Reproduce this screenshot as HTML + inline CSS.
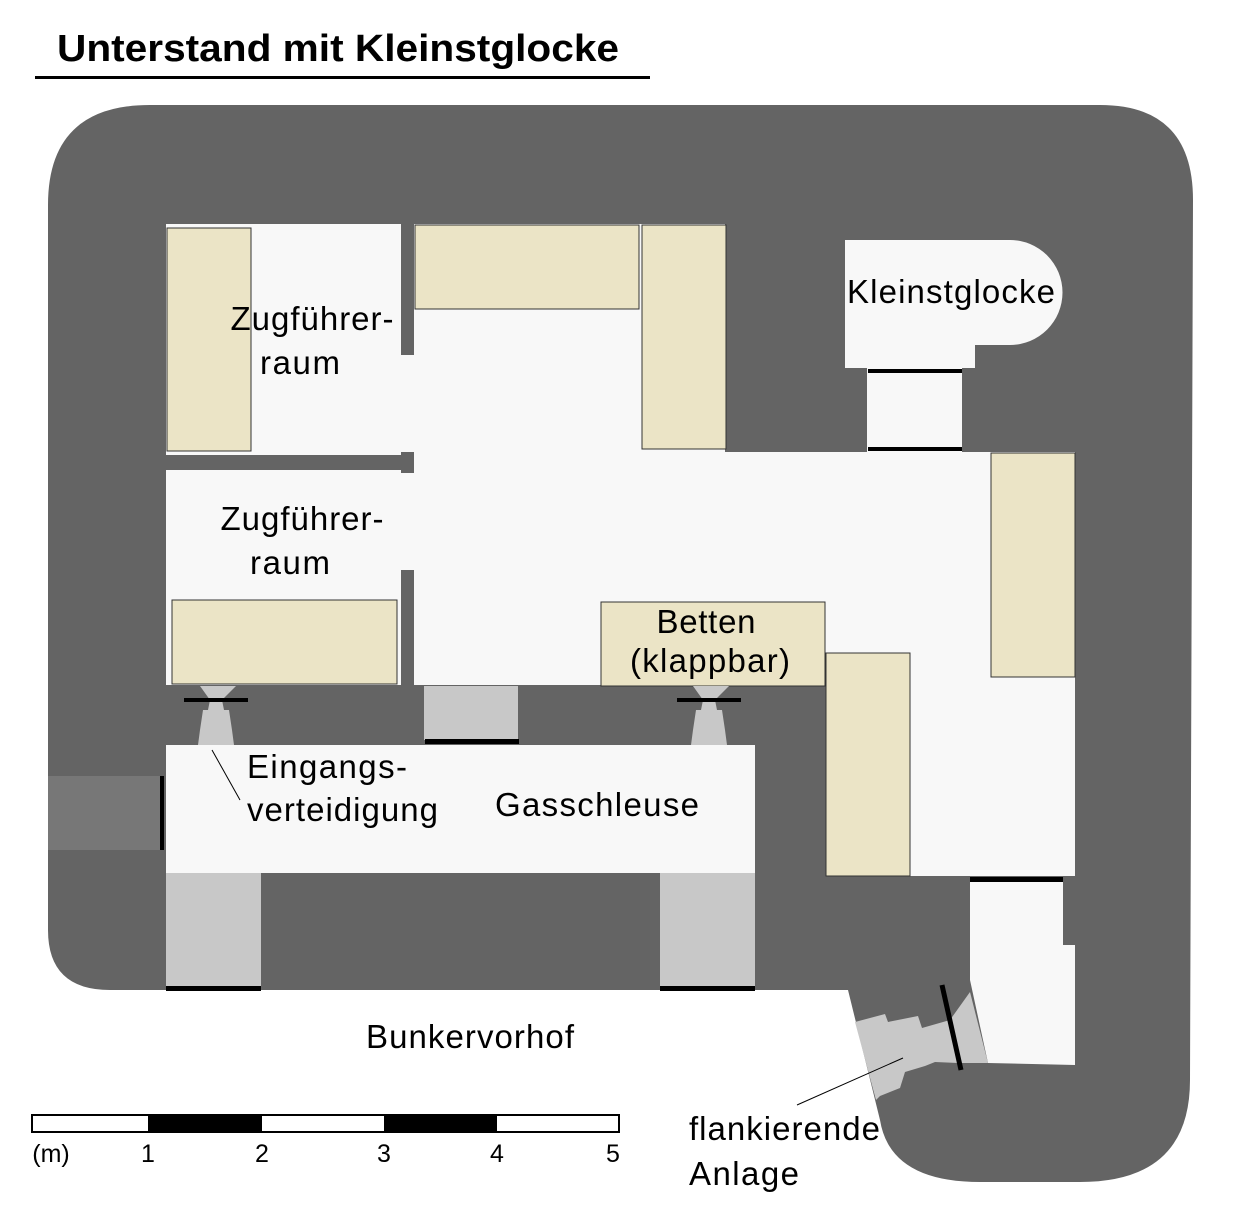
<!DOCTYPE html>
<html><head><meta charset="utf-8"><style>body{margin:0;background:#fff}svg{display:block}text{font-family:"Liberation Sans",sans-serif}</style></head><body>
<svg width="1250" height="1219" viewBox="0 0 1250 1219">
<text x="57" y="61" font-size="38" font-weight="bold" textLength="562" lengthAdjust="spacingAndGlyphs">Unterstand mit Kleinstglocke</text>
<rect x="35" y="76" width="615" height="3" fill="#000"/>
<path d="M48 205 Q48 105 150 105 L1100 105 Q1193 105 1193 200 L1190 1080 Q1190 1182 1080 1182 L980 1182 Q890 1182 880 1120 L848 990 L110 990 Q48 990 48 930 Z" fill="#646464"/>
<g fill="#f8f8f8">
<rect x="166" y="224" width="235" height="231"/>
<rect x="166" y="470" width="235" height="215"/>
<rect x="401" y="355" width="14" height="97"/>
<rect x="401" y="473" width="14" height="97"/>
<polygon points="414,224 725,224 725,452 1075,452 1075,876 826,876 826,685 414,685"/>
<path d="M845 240 L1010 240 A52 52 0 0 1 1010 345 L975 345 L975 368 L845 368 Z"/>
<rect x="867" y="368" width="95" height="84"/>
<rect x="166" y="745" width="589" height="128"/>
<polygon points="970,880 1063,880 1063,945 1075,945 1075,1065 988,1063 970,980"/>
</g>
<rect x="166" y="455" width="248" height="15" fill="#646464"/>
<rect x="868" y="369" width="94" height="4" fill="#000"/>
<rect x="868" y="447" width="94" height="4" fill="#000"/>
<g fill="#ebe4c6" stroke="#333" stroke-width="1">
<rect x="167" y="228" width="84" height="223"/>
<rect x="415" y="225" width="224" height="84"/>
<rect x="642" y="225" width="84" height="224"/>
<rect x="172" y="600" width="225" height="84"/>
<rect x="601" y="602" width="224" height="84"/>
<rect x="826" y="653" width="84" height="223"/>
<rect x="991" y="453" width="84" height="224"/>
</g>
<rect x="48" y="776" width="114" height="74" fill="#777"/>
<rect x="160" y="776" width="4" height="74" fill="#000"/>
<g fill="#c8c8c8">
<rect x="424" y="686" width="94" height="54"/>
<rect x="166" y="873" width="95" height="115"/>
<rect x="660" y="873" width="95" height="115"/>
<polygon points="200,686 236,686 222,700 224,710 229,710 232,730 234,745 198,745 200,730 203,710 208,710 210,700"/>
<polygon points="693,686 729,686 715,700 717,710 722,710 725,730 727,745 691,745 693,730 696,710 701,710 703,700"/>
<polygon points="855,1022 885,1014 888,1022 918,1016 922,1028 950,1020 970,992 988,1063 958,1063 935,1062 925,1066 905,1072 900,1088 880,1096 876,1100"/>
</g>
<rect x="184" y="698" width="64" height="4" fill="#000"/>
<rect x="677" y="698" width="64" height="4" fill="#000"/>
<rect x="425" y="739" width="94" height="5" fill="#000"/>
<rect x="166" y="986" width="95" height="5" fill="#000"/>
<rect x="660" y="986" width="95" height="5" fill="#000"/>
<rect x="970" y="877" width="93" height="5" fill="#000"/>
<line x1="942" y1="985" x2="961" y2="1070" stroke="#000" stroke-width="5"/>
<line x1="212" y1="750" x2="240" y2="800" stroke="#000" stroke-width="1"/>
<line x1="903" y1="1058" x2="797" y2="1105" stroke="#000" stroke-width="1"/>
<g font-size="33" text-anchor="middle" lengthAdjust="spacingAndGlyphs">
<text x="312" y="330" textLength="163">Zugführer-</text>
<text x="300" y="374" textLength="80">raum</text>
<text x="302" y="530" textLength="163">Zugführer-</text>
<text x="290" y="574" textLength="80">raum</text>
<text x="951" y="303" textLength="208">Kleinstglocke</text>
<text x="706" y="633" textLength="99">Betten</text>
<text x="710" y="672" textLength="160">(klappbar)</text>
<text x="597" y="816" textLength="204">Gasschleuse</text>
<text x="470" y="1048" textLength="208">Bunkervorhof</text>
</g>
<g font-size="33" lengthAdjust="spacingAndGlyphs">
<text x="247" y="778" textLength="160">Eingangs-</text>
<text x="247" y="821" textLength="191">verteidigung</text>
<text x="689" y="1140" textLength="191">flankierende</text>
<text x="689" y="1185" textLength="110">Anlage</text>
</g>
<rect x="32" y="1115" width="587" height="17" fill="#fff" stroke="#000" stroke-width="2"/>
<rect x="148" y="1115" width="114" height="17" fill="#000"/>
<rect x="384" y="1115" width="113" height="17" fill="#000"/>
<g font-size="25" text-anchor="middle">
<text x="51" y="1162">(m)</text><text x="148" y="1162">1</text><text x="262" y="1162">2</text><text x="384" y="1162">3</text><text x="497" y="1162">4</text><text x="613" y="1162">5</text>
</g>
</svg>
</body></html>
